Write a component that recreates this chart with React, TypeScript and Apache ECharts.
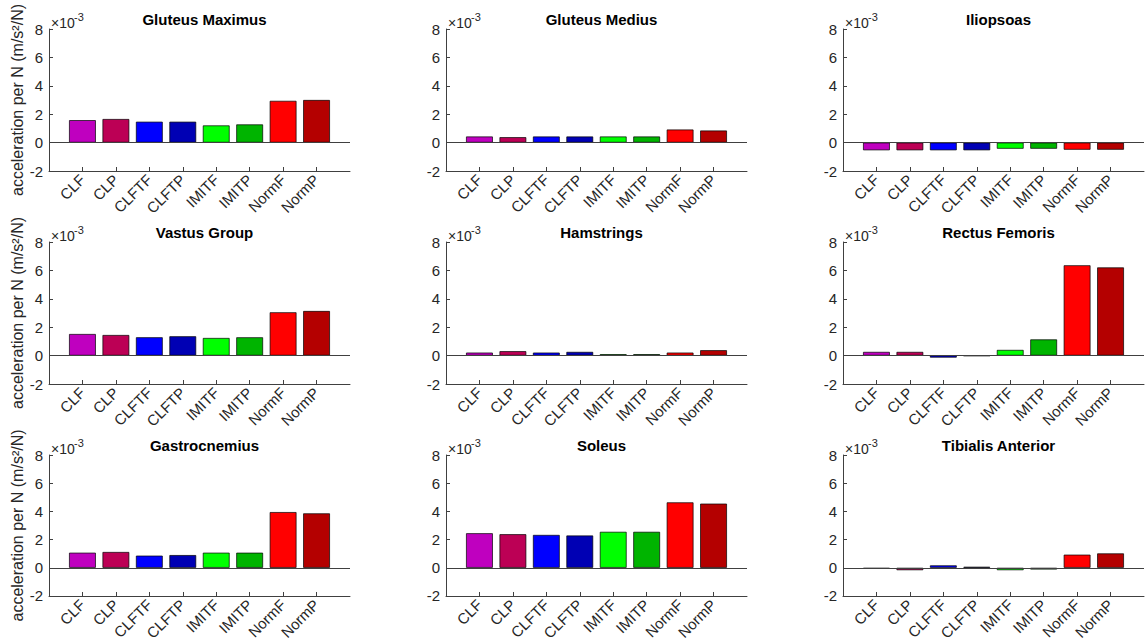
import React, { useEffect, useRef } from "react";
import * as echarts from "echarts";

const categories = ["CLF", "CLP", "CLFTF", "CLFTP", "IMITF", "IMITP", "NormF", "NormP"];
const barColors = ["#BF00BF", "#BC0055", "#0000FF", "#0000B4", "#00FF00", "#00B400", "#FF0000", "#B40000"];
const muscles = [
  "Gluteus Maximus", "Gluteus Medius", "Iliopsoas",
  "Vastus Group", "Hamstrings", "Rectus Femoris",
  "Gastrocnemius", "Soleus", "Tibialis Anterior",
];
// values in units of 10^-3 m/s^2/N
const gluteusMaximus = [1.58, 1.66, 1.47, 1.47, 1.21, 1.28, 2.94, 3.0];
const gluteusMedius = [0.43, 0.38, 0.43, 0.43, 0.43, 0.43, 0.92, 0.85];
const iliopsoas = [-0.54, -0.54, -0.54, -0.54, -0.43, -0.43, -0.5, -0.5];
const vastusGroup = [1.52, 1.45, 1.29, 1.36, 1.24, 1.29, 3.05, 3.14];
const hamstrings = [0.21, 0.31, 0.21, 0.26, 0.1, 0.1, 0.21, 0.38];
const rectusFemoris = [0.26, 0.26, -0.14, -0.02, 0.4, 1.14, 6.36, 6.21];
const gastrocnemius = [1.07, 1.12, 0.86, 0.9, 1.07, 1.07, 3.95, 3.86];
const soleus = [2.45, 2.38, 2.33, 2.29, 2.55, 2.55, 4.64, 4.55];
const tibialisAnterior = [-0.07, -0.17, 0.17, 0.07, -0.17, -0.12, 0.93, 1.02];
const allValues = [
  gluteusMaximus, gluteusMedius, iliopsoas,
  vastusGroup, hamstrings, rectusFemoris,
  gastrocnemius, soleus, tibialisAnterior,
];
const yMin = -2;
const yMax = 8;
const yStep = 2;
const yAxisTitle = "acceleration per N (m/s²/N)";

const FONT = "'Liberation Sans', Arial, Helvetica, sans-serif";
const INK = "#262626";
const AXIS = "#404040";

export default function App() {
  const ref = useRef<HTMLDivElement>(null);
  useEffect(() => {
    if (!ref.current) return;
    const chart = echarts.init(ref.current, null, { renderer: "svg" });
    const lefts = [49, 446, 843];
    const tops = [29, 242, 455];
    const gw = 301;
    const gh = 142;
    const xData = ["_pad0", ...categories, "_pad9"];
    const inner = (i: number) => i > 0 && i < xData.length - 1;

    const grids: any[] = [];
    const xAxes: any[] = [];
    const yAxes: any[] = [];
    const series: any[] = [];
    const titles: any[] = [];
    const graphics: any[] = [];

    allValues.forEach((vals, k) => {
      const col = k % 3;
      const row = Math.floor(k / 3);
      const left = lefts[col];
      const top = tops[row];
      grids.push({ left, top, width: gw, height: gh, containLabel: false });
      xAxes.push({
        type: "category",
        gridIndex: k,
        data: xData,
        boundaryGap: false,
        axisLine: { show: true, onZero: false, lineStyle: { color: AXIS, width: 1 } },
        axisTick: { show: true, inside: true, length: 4, interval: (i: number) => inner(i), lineStyle: { color: AXIS } },
        axisLabel: {
          show: true,
          rotate: 45,
          interval: (i: number) => inner(i),
          formatter: (v: string) => (v.startsWith("_") ? "" : v),
          color: INK,
          fontFamily: FONT,
          fontSize: 15,
          margin: 6,
        },
        splitLine: { show: false },
      });
      yAxes.push({
        type: "value",
        gridIndex: k,
        min: yMin,
        max: yMax,
        interval: yStep,
        axisLine: { show: true, lineStyle: { color: AXIS, width: 1 } },
        axisTick: { show: true, inside: true, length: 4, lineStyle: { color: AXIS } },
        axisLabel: { color: INK, fontFamily: FONT, fontSize: 15, margin: 6 },
        splitLine: { show: false },
        name: col === 0 ? yAxisTitle : "",
        nameLocation: "middle",
        nameRotate: 90,
        nameGap: 17,
        nameTextStyle: { color: INK, fontFamily: FONT, fontSize: 16 },
      });
      series.push({
        type: "bar",
        xAxisIndex: k,
        yAxisIndex: k,
        barWidth: "80%",
        data: [
          "-",
          ...vals.map((v, i) => ({
            value: v,
            itemStyle: { color: barColors[i], borderColor: "#000", borderWidth: 0.7 },
          })),
          "-",
        ],
        markLine: {
          silent: true,
          symbol: "none",
          label: { show: false },
          lineStyle: { color: AXIS, width: 1, type: "solid" },
          data: [{ yAxis: 0 }],
        },
      });
      titles.push({
        text: muscles[k],
        left: left + gw / 2,
        top: top - 22,
        textAlign: "center",
        textStyle: { fontFamily: FONT, fontSize: 15, fontWeight: "bold", color: "#000" },
      });
      graphics.push({
        type: "text",
        x: left + 2,
        y: top - 13,
        style: { text: "×10", fontFamily: FONT, fontSize: 14, fill: INK },
      });
      graphics.push({
        type: "text",
        x: left + 25,
        y: top - 18,
        style: { text: "-3", fontFamily: FONT, fontSize: 11, fill: INK },
      });
    });

    chart.setOption({
      animation: false,
      backgroundColor: "#fff",
      title: titles,
      grid: grids,
      xAxis: xAxes,
      yAxis: yAxes,
      series,
      graphic: graphics,
    });
    return () => chart.dispose();
  }, []);
  return (
    <div
      ref={ref}
      style={{ position: "absolute", left: 0, top: 0, width: 1148, height: 643, background: "#fff" }}
    />
  );
}
